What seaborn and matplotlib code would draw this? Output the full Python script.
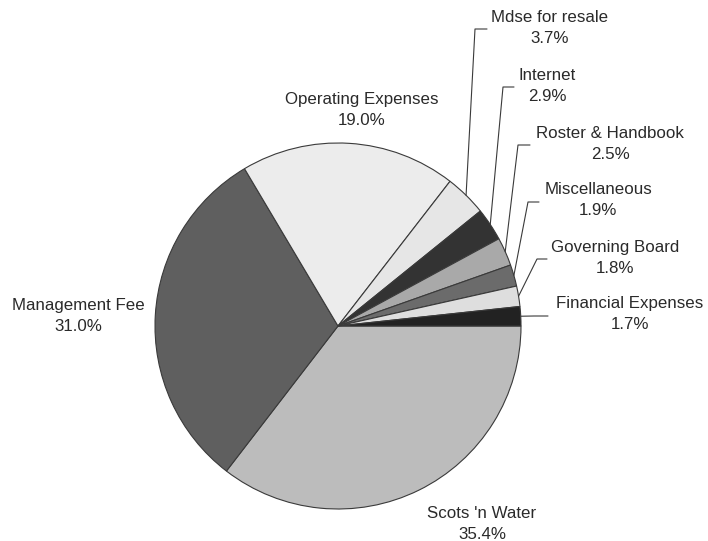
import matplotlib
matplotlib.use("Agg")
import matplotlib.pyplot as plt
import numpy as np
import seaborn as sns

# Expense shares (%), drawn clockwise from 3 o'clock
categories = ["Scots 'n Water", "Management Fee", "Operating Expenses",
              "Mdse for resale", "Internet", "Roster & Handbook",
              "Miscellaneous", "Governing Board", "Financial Expenses"]
shares = [35.4, 31.0, 19.0, 3.7, 2.9, 2.5, 1.9, 1.8, 1.7]
pct_labels = ["35.4%", "31.0%", "19.0%", "3.7%", "2.9%", "2.5%", "1.9%", "1.8%", "1.7%"]

slice_colors = ["#bcbcbc", "#5f5f5f", "#ececec", "#e6e6e6", "#333333",
                "#a9a9a9", "#6b6b6b", "#dedede", "#222222"]

sns.set_theme(style="white")
plt.rcParams["font.family"] = ["Liberation Sans", "DejaVu Sans"]

W, H = 708, 541
fig = plt.figure(figsize=(W / 100, H / 100), dpi=100)
ax = fig.add_axes([0, 0, 1, 1])

cx, cy, r = 338, H - 326, 183
wedges, _ = ax.pie(shares, colors=slice_colors, startangle=0, counterclock=False,
                   center=(cx, cy), radius=r, frame=True,
                   wedgeprops=dict(edgecolor="#3a3a3a", linewidth=0.8))
ax.set_xlim(0, W)
ax.set_ylim(0, H)
ax.set_aspect("equal")
ax.axis("off")

# Label block centres (image coordinates, y down)
label_pos = [(482, 524), (78, 316), (362, 110), (550, 28), (547, 86),
             (610, 144), (598, 200), (615, 258), (630, 314)]
# Leader-line elbows for the thin slices: (elbow x, end x, y)
elbows = {3: (475, 487, 29), 4: (503, 514, 87), 5: (518, 530, 145),
          6: (528, 539, 202), 7: (537, 547, 259), 8: (534, 548, 316)}

txt_color = "#2a2a2a"
for i, w in enumerate(wedges):
    lx, ly = label_pos[i]
    ax.text(lx, H - ly, f"{categories[i]}\n{pct_labels[i]}", ha="center", va="center",
            multialignment="center", fontsize=12.2, color=txt_color, linespacing=1.55)
    if i in elbows:
        theta = np.deg2rad((w.theta1 + w.theta2) / 2)
        sx, sy = cx + r * np.cos(theta), cy + r * np.sin(theta)
        ex, endx, ey = elbows[i]
        ax.plot([sx, ex, endx], [sy, H - ey, H - ey], color="#3a3a3a", lw=0.8)

fig.savefig("out.png", dpi=100, facecolor="white")
